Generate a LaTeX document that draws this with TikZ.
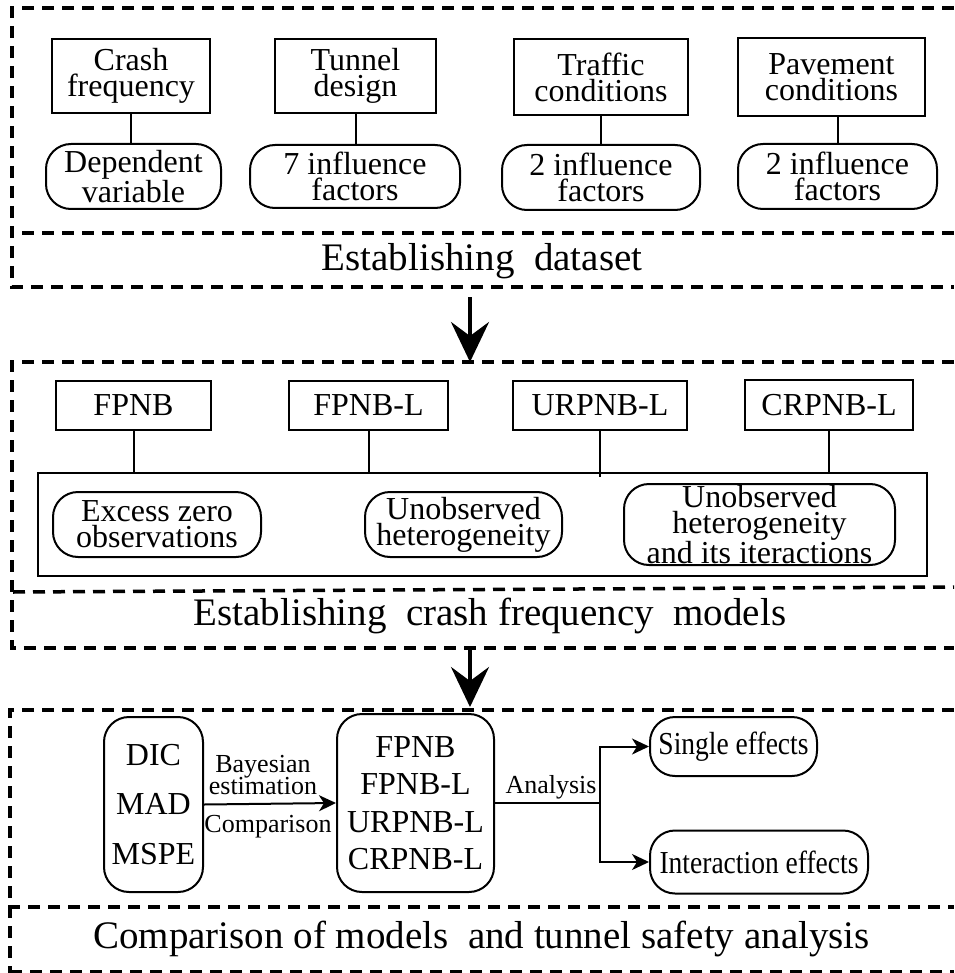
\documentclass[tikz,border=0pt]{standalone}
\usepackage{fontspec}
\setmainfont{Liberation Serif}
\usetikzlibrary{arrows.meta}
\newcommand\myNodeFont{\fontsize{32}{26}\selectfont}
\newcommand\myTitleFont{\fontsize{39}{42}\selectfont}
\newcommand\mySmallFont{\fontsize{26}{21}\selectfont}
\tikzset{
  sq/.style={draw, line width=2pt, inner sep=0pt, align=center, font=\myNodeFont},
  rnd/.style={sq, rounded corners=25pt},
  dl/.style={line width=3.5pt, dash pattern=on 12pt off 8pt},
  ln/.style={line width=2pt},
  bigarrow/.style={line width=4pt, -{Stealth[length=40pt,width=38pt,inset=14pt]}},
  smallarrow/.style={line width=2pt, -{Stealth[length=17pt,width=16pt,inset=5pt]}},
  ttl/.style={anchor=base, inner sep=0pt, font=\myTitleFont},
  lbl/.style={inner sep=0pt, align=center, font=\mySmallFont},
}
\begin{document}
\begin{tikzpicture}[x=1pt,y=-1pt]
\useasboundingbox (0,0) rectangle (954,973);
% ---------- section 1 ----------
\draw[dl] (954,8) -- (12,8) -- (12,287) -- (954,287);
\draw[dl] (22,233) -- (954,233);
\node[ttl] (t1) at (482,270) {Establishing\ \ dataset};

\node[sq, minimum width=158pt, minimum height=74pt] (cf) at (131,76) {Crash\\frequency};
\node[rnd, minimum width=175pt, minimum height=65pt] (dv) at (133.5,176.5) {Dependent\\variable};
\node[sq, minimum width=161pt, minimum height=74pt] (td) at (355.5,76) {Tunnel\\design};
\node[rnd, minimum width=210pt, minimum height=63pt] (f7) at (355,176.5) {7 influence\\factors};
\node[sq, minimum width=174pt, minimum height=76pt] (tc) at (601,77) {Traffic\\conditions};
\node[rnd, minimum width=198pt, minimum height=65pt] (f2a) at (601,177.5) {2 influence\\factors};
\node[sq, minimum width=187pt, minimum height=78pt] (pc) at (831.5,77) {Pavement\\conditions};
\node[rnd, minimum width=199pt, minimum height=65pt] (f2b) at (837.5,176.5) {2 influence\\factors};

\draw[ln] (cf.south) -- (cf.south |- dv.north);
\draw[ln] (td.south) -- (td.south |- f7.north);
\draw[ln] (tc.south) -- (tc.south |- f2a.north);
\draw[ln] (838,116) coordinate (pcb) -- (pcb |- f2b.north);

% arrow 1
\coordinate (a1s) at (470,297);
\coordinate (a1e) at (470,362);
\draw[bigarrow] (a1s) -- (a1e);

% ---------- section 2 ----------
\draw[dl] (954,362) -- (12,362) -- (12,648) -- (954,648);
\draw[dl] (13,592) -- (954,587);
\node[ttl] (t2) at (490,625) {Establishing\ \ crash frequency\ \ models};

\node[sq, minimum width=155pt, minimum height=49pt] (m1) at (133.5,405.5) {FPNB};
\node[sq, minimum width=159pt, minimum height=49pt] (m2) at (368.5,405.5) {FPNB-L};
\node[sq, minimum width=174pt, minimum height=49pt] (m3) at (600,405.5) {URPNB-L};
\node[sq, minimum width=168pt, minimum height=50pt] (m4) at (829,405) {CRPNB-L};
\node[draw, line width=2pt, minimum width=889pt, minimum height=103pt, inner sep=0pt] (big) at (482.5,524.5) {};
\node[rnd, minimum width=208pt, minimum height=65pt] (e1) at (157,524.5) {Excess zero\\observations};
\node[rnd, minimum width=197pt, minimum height=65pt] (e2) at (463.5,524.5) {Unobserved\\heterogeneity};
\node[rnd, minimum width=271pt, minimum height=81pt] (e3) at (759.5,524.5) {Unobserved\\heterogeneity\\and its iteractions};

\draw[ln] (m1.south) -- (m1.south |- big.north);
\draw[ln] (m2.south) -- (m2.south |- big.north);
\draw[ln] (m3.south) -- ([yshift=-5pt]m3.south |- big.north);
\draw[ln] (m4.south) -- (m4.south |- big.north);

% arrow 2
\coordinate (a2s) at (470,650);
\coordinate (a2e) at (470,707);
\draw[bigarrow] (a2s) -- (a2e);

% ---------- section 3 ----------
\draw[dl] (954,710) -- (10,710) -- (10,973);
\draw[dl] (8,907) -- (954,907);
\draw[dl] (10,972) -- (954,972);
\node[ttl] (t3) at (481.5,948) {Comparison of models\ \ and tunnel safety analysis};

\node[rnd, minimum width=99pt, minimum height=175pt, font=\fontsize{32}{49.5}\selectfont] (crit) at (153.5,804.5) {DIC\\MAD\\MSPE};
\node[rnd, minimum width=157pt, minimum height=178pt, font=\fontsize{32}{37.5}\selectfont] (mods) at (415.5,803) {FPNB\\FPNB-L\\URPNB-L\\CRPNB-L};
\node[rnd, minimum width=167pt, minimum height=59pt] (se) at (733.5,746.5) {\scalebox{0.86}[1]{Single effects}};
\node[rnd, minimum width=218pt, minimum height=63pt] (ie) at (759,862) {\scalebox{0.86}[1]{Interaction effects}};

\draw[smallarrow] (crit.east) -- (mods.west);
\node[lbl, anchor=base] (bay) at (263,772) {Bayesian};
\node[lbl, anchor=base] (est) at (263,794) {estimation};
\node[lbl, anchor=base] (cmp) at (268,832) {Comparison};

\coordinate (j) at (600,803);
\draw[ln] (mods.east) -- (j);
\node[lbl, anchor=base] (ana) at (551,793) {Analysis};
\draw[smallarrow] (j) |- (se.west);
\draw[smallarrow] (j) |- (ie.west);
\end{tikzpicture}
\end{document}
